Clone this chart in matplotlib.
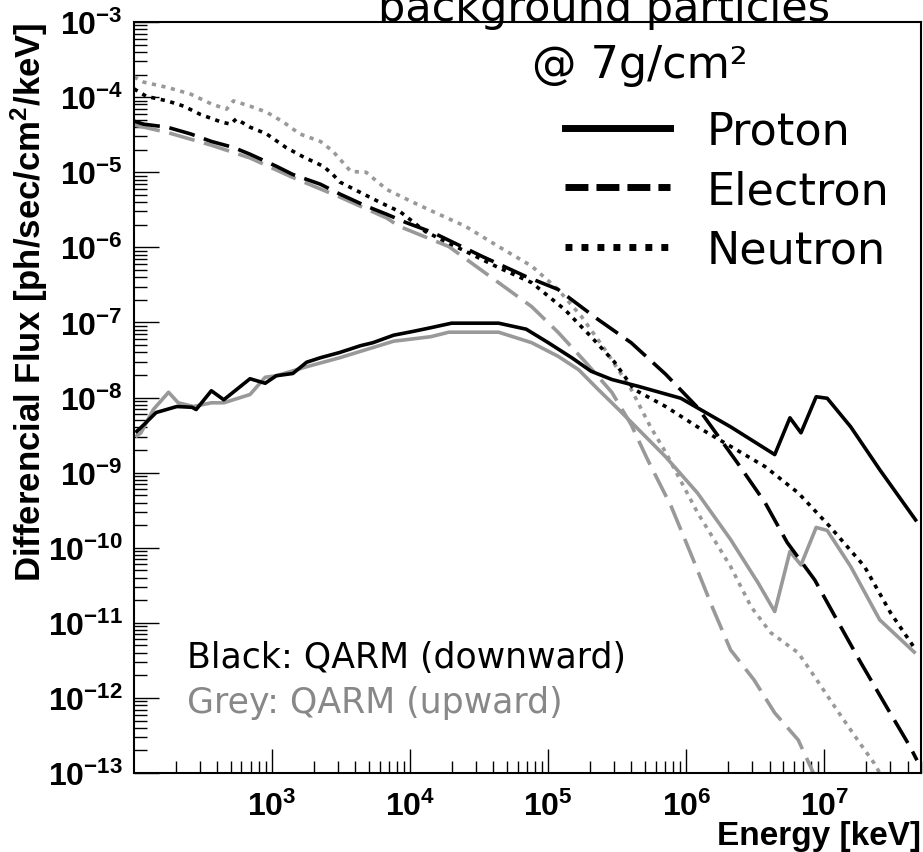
import matplotlib
matplotlib.use("Agg")
import matplotlib.pyplot as plt
import numpy as np
from matplotlib.lines import Line2D
from matplotlib.ticker import LogLocator, NullFormatter

plt.rcParams['mathtext.default'] = 'regular'
plt.rcParams['lines.scale_dashes'] = False

# values: log10(E [keV]) and log10(flux)
# black = QARM (downward)
proton_dn_logE = [2.02, 2.05, 2.16, 2.31, 2.42, 2.45, 2.56, 2.65, 2.84, 2.95, 3.03, 3.15, 3.25,
                  3.35, 3.49, 3.64, 3.73, 3.88, 4.02, 4.15, 4.30, 4.64, 4.84, 5.00, 5.17, 5.31,
                  5.46, 5.65, 5.96, 6.32, 6.64, 6.75, 6.83, 6.94, 7.02, 7.19, 7.40, 7.66]
proton_dn_logF = [-8.45, -8.40, -8.20, -8.12, -8.13, -8.16, -7.91, -8.03, -7.75, -7.81, -7.71, -7.68, -7.53,
                  -7.47, -7.40, -7.31, -7.27, -7.17, -7.12, -7.07, -7.01, -7.01, -7.09, -7.27, -7.47, -7.65,
                  -7.76, -7.85, -8.01, -8.39, -8.76, -8.27, -8.47, -7.99, -8.01, -8.39, -8.96, -9.63]

electron_dn_logE = [2.00, 2.07, 2.24, 2.41, 2.56, 2.72, 2.84, 3.03, 3.15, 3.35, 3.49, 3.68, 3.83, 3.97,
                    4.16, 4.52, 4.84, 5.07, 5.36, 5.60, 5.85, 6.08, 6.37, 6.57, 6.73, 6.93, 7.09, 7.26,
                    7.45, 7.62, 7.67]
electron_dn_logF = [-4.32, -4.36, -4.40, -4.49, -4.59, -4.67, -4.76, -4.92, -5.03, -5.16, -5.29, -5.45, -5.56,
                    -5.67, -5.80, -6.12, -6.39, -6.56, -6.96, -7.27, -7.69, -8.13, -8.87, -9.40, -9.93,
                    -10.43, -10.96, -11.52, -12.12, -12.65, -12.83]

neutron_dn_logE = [2.00, 2.09, 2.24, 2.36, 2.48, 2.63, 2.70, 2.74, 2.84, 2.96, 3.10, 3.23, 3.37, 3.44,
                   3.49, 3.64, 3.78, 3.93, 4.11, 4.64, 4.88, 5.12, 5.31, 5.48, 5.62, 5.85, 6.08, 6.32,
                   6.57, 6.81, 7.04, 7.29, 7.48, 7.65]
neutron_dn_logF = [-3.89, -3.99, -4.05, -4.12, -4.23, -4.33, -4.36, -4.29, -4.40, -4.49, -4.67, -4.80, -4.92,
                   -5.03, -5.13, -5.27, -5.40, -5.53, -5.79, -6.27, -6.47, -6.83, -7.19, -7.53, -7.89,
                   -8.12, -8.39, -8.65, -8.92, -9.27, -9.72, -10.25, -10.87, -11.33]

# grey = QARM (upward)
proton_up_logE = [2.02, 2.05, 2.14, 2.25, 2.32, 2.43, 2.56, 2.65, 2.84, 2.95, 3.03, 3.25, 3.49, 3.88,
                  4.15, 4.28, 4.64, 4.88, 5.07, 5.22, 5.36, 5.51, 5.85, 6.08, 6.32, 6.52, 6.64, 6.75,
                  6.83, 6.94, 7.02, 7.19, 7.40, 7.65]
proton_up_logF = [-8.51, -8.47, -8.16, -7.93, -8.07, -8.12, -8.07, -8.07, -7.96, -7.73, -7.71, -7.59, -7.47,
                  -7.25, -7.19, -7.13, -7.13, -7.27, -7.45, -7.63, -7.89, -8.16, -8.79, -9.27, -9.89,
                  -10.47, -10.85, -10.05, -10.23, -9.73, -9.77, -10.25, -10.96, -11.39]

electron_up_logE = [2.00, 2.24, 2.56, 2.84, 3.15, 3.49, 3.83, 3.92, 4.28, 4.64, 4.88, 5.07, 5.27, 5.46,
                    5.60, 5.72, 5.89, 6.03, 6.19, 6.32, 6.49, 6.64, 6.81, 6.90, 6.95]
electron_up_logF = [-4.37, -4.47, -4.64, -4.81, -5.07, -5.33, -5.61, -5.72, -5.99, -6.47, -6.79, -7.13, -7.53,
                    -7.93, -8.36, -8.83, -9.45, -10.07, -10.80, -11.36, -11.76, -12.20, -12.56, -12.92, -13.12]

neutron_up_logE = [2.00, 2.07, 2.24, 2.41, 2.56, 2.67, 2.72, 2.84, 2.96, 3.08, 3.20, 3.35, 3.44, 3.57,
                   3.68, 3.83, 4.02, 4.16, 4.40, 4.64, 4.88, 5.07, 5.24, 5.41, 5.60, 5.74, 5.85, 6.08,
                   6.32, 6.47, 6.61, 6.81, 6.93, 7.09, 7.24, 7.36, 7.45]
neutron_up_logF = [-3.73, -3.80, -3.87, -3.96, -4.09, -4.16, -4.05, -4.12, -4.20, -4.33, -4.49, -4.59, -4.72,
                   -4.99, -5.00, -5.23, -5.40, -5.52, -5.72, -5.99, -6.25, -6.56, -6.92, -7.36, -7.89,
                   -8.39, -8.73, -9.53, -10.25, -10.79, -11.13, -11.40, -11.72, -12.16, -12.56, -12.87, -13.16]

BLACK = 'black'
GREY = '#999999'
DASH = (0, (19, 7))
DOT = (0, (3, 4))
LW = 2.6

fig = plt.figure(figsize=(9.23, 8.53), dpi=100)
ax = fig.add_axes([0.1452, 0.0926, 0.8526, 0.8804])

curves = [
    (proton_up_logE, proton_up_logF, GREY, '-'),
    (electron_up_logE, electron_up_logF, GREY, DASH),
    (neutron_up_logE, neutron_up_logF, GREY, DOT),
    (proton_dn_logE, proton_dn_logF, BLACK, '-'),
    (electron_dn_logE, electron_dn_logF, BLACK, DASH),
    (neutron_dn_logE, neutron_dn_logF, BLACK, DOT),
]
for lx, ly, c, ls in curves:
    ax.plot(10**np.array(lx), 10**np.array(ly), color=c, lw=LW, linestyle=ls)

ax.set_xscale('log')
ax.set_yscale('log')
ax.set_xlim(100, 5e7)
ax.set_ylim(1e-13, 1e-3)

ax.set_xticks([1e3, 1e4, 1e5, 1e6, 1e7])
ax.xaxis.set_minor_locator(LogLocator(base=10, subs=np.arange(2, 10), numticks=20))
ax.xaxis.set_minor_formatter(NullFormatter())
ax.yaxis.set_major_locator(LogLocator(base=10, numticks=20))
ax.yaxis.set_minor_locator(LogLocator(base=10, subs=np.arange(2, 10), numticks=20))
ax.yaxis.set_minor_formatter(NullFormatter())

ax.tick_params(which='both', direction='in', top=False, right=False, width=1.0)
ax.tick_params(axis='y', which='major', length=18, pad=8)
ax.tick_params(axis='y', which='minor', length=9)
ax.tick_params(axis='x', which='major', length=17, pad=13)
ax.tick_params(axis='x', which='minor', length=8.5)
for lab in ax.get_xticklabels() + ax.get_yticklabels():
    lab.set_fontfamily('Liberation Sans')
    lab.set_fontweight('bold')
    lab.set_fontsize(23)
for sp in ax.spines.values():
    sp.set_linewidth(1.5)

ax.set_ylabel('Differencial Flux [ph/sec/cm$^2$/keV]', fontsize=25, fontweight='bold',
              family='Liberation Sans', loc='top')
ax.yaxis.set_label_coords(-0.107, 1.0)
ax.set_xlabel('Energy [keV]', fontsize=24, fontweight='bold', family='Liberation Sans', loc='right')
ax.xaxis.set_label_coords(1.0, -0.062)

handles = [
    Line2D([], [], color=BLACK, lw=5, linestyle='-'),
    Line2D([], [], color=BLACK, lw=5, linestyle=(0, (16.5, 5.8))),
    Line2D([], [], color=BLACK, lw=5, linestyle=(0, (5, 6.5))),
]
ax.legend(handles, ['Proton', 'Electron', 'Neutron'], loc='upper left',
          bbox_to_anchor=(0.548, 0.884), bbox_transform=ax.transAxes, frameon=False,
          borderpad=0, borderaxespad=0, handlelength=2.36, handletextpad=0.83,
          labelspacing=0.38, prop={'family': 'DejaVu Sans', 'size': 32})

fig.text(0.654, 0.9754, 'background particles', fontsize=31, ha='center', va='baseline',
         family='DejaVu Sans')
fig.text(0.693, 0.908, '@ 7g/cm²', fontsize=32, ha='center', va='baseline', family='DejaVu Sans')

ax.text(0.067, 0.141, 'Black: QARM (downward)', transform=ax.transAxes, fontsize=25,
        color=BLACK, va='baseline', family='DejaVu Sans')
ax.text(0.067, 0.081, 'Grey: QARM (upward)', transform=ax.transAxes, fontsize=25,
        color='#888888', va='baseline', family='DejaVu Sans')

fig.savefig('out.png', dpi=100)
